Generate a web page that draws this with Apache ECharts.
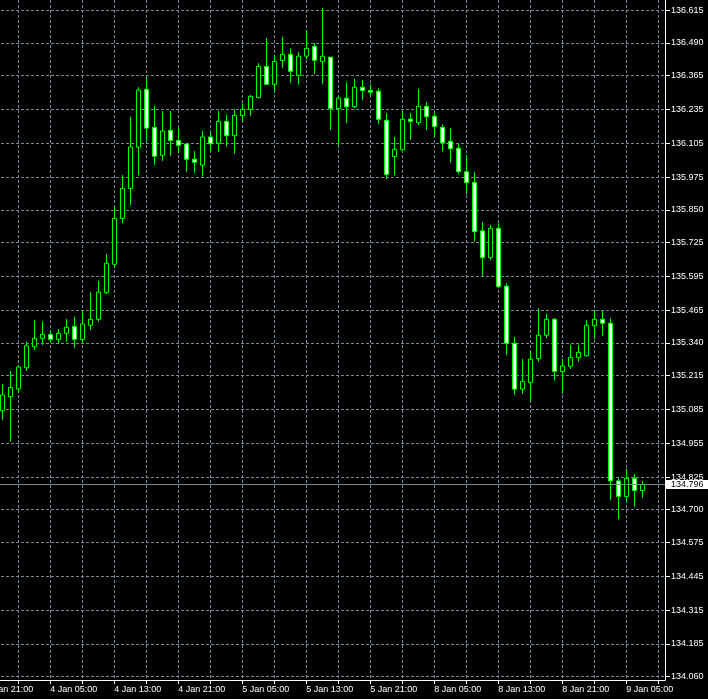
<!DOCTYPE html>
<html><head><meta charset="utf-8">
<style>html,body{margin:0;padding:0;background:#000;}#c{width:708px;height:699px;}</style>
<script src="https://cdn.jsdelivr.net/npm/echarts@6/dist/echarts.min.js"></script>
</head><body><div id="c"></div>
<script>
// hourly time slots (weekend removed)
const dayRanges = [['3 Jan',21,23],['4 Jan',0,23],['5 Jan',0,23],['8 Jan',0,23],['9 Jan',0,9]];
const timeSlots = [];
dayRanges.forEach(([d,a,b])=>{for(let h=a;h<=b;h++) timeSlots.push(d+' '+String(h).padStart(2,'0')+':00');});
const firstCandle = '3 Jan 23:00';

const opens = [135.079,135.133,135.163,135.244,135.325,135.357,135.372,135.353,135.376,135.403,
135.353,135.407,135.430,135.532,135.641,135.817,135.932,136.090,136.312,136.166,
136.059,136.155,136.116,136.102,136.044,136.021,136.129,136.105,136.189,136.134,
136.211,136.235,136.280,136.400,136.331,136.423,136.446,136.366,136.439,136.477,
136.419,136.435,136.238,136.278,136.245,136.320,136.308,136.305,136.193,136.054,
136.080,136.198,136.184,136.247,136.209,136.166,136.113,136.086,135.996,135.955,
135.769,135.666,135.779,135.557,135.338,135.162,135.188,135.279,135.369,135.430,
135.230,135.250,135.284,135.290,135.405,135.430,135.415,134.810,134.750,134.820,134.773];
const closes = [135.140,135.168,135.247,135.328,135.357,135.372,135.353,135.376,135.399,135.353,
135.412,135.430,135.534,135.645,135.817,135.932,136.091,136.309,136.163,136.055,
136.152,136.116,136.097,136.044,136.032,136.129,136.103,136.189,136.134,136.212,
136.235,136.285,136.400,136.331,136.419,136.446,136.381,136.439,136.469,136.423,
136.439,136.238,136.278,136.245,136.320,136.307,136.301,136.197,135.985,136.082,
136.197,136.189,136.247,136.207,136.169,136.107,136.084,135.996,135.954,135.766,
135.666,135.779,135.555,135.338,135.162,135.192,135.277,135.369,135.430,135.230,
135.251,135.284,135.303,135.407,135.430,135.415,134.810,134.750,134.820,134.773,134.796];
const highs = [135.182,135.232,135.255,135.344,135.427,135.421,135.385,135.393,135.431,135.440,
135.462,135.534,135.577,135.680,135.862,135.983,136.207,136.320,136.357,136.248,
136.229,136.229,136.163,136.105,136.075,136.152,136.148,136.229,136.214,136.235,
136.258,136.290,136.412,136.509,136.444,136.513,136.469,136.455,136.540,136.489,
136.624,136.437,136.285,136.339,136.352,136.348,136.331,136.316,136.220,136.129,
136.229,136.220,136.313,136.263,136.220,136.178,136.163,136.105,136.060,135.995,
135.803,135.791,135.798,135.568,135.362,135.278,135.308,135.472,135.450,135.434,
135.278,135.331,135.331,135.427,135.466,135.462,135.434,134.822,134.856,134.837,134.810];
const lows = [135.044,134.961,135.147,135.232,135.312,135.331,135.344,135.338,135.344,135.321,
135.344,135.389,135.421,135.527,135.628,135.798,135.868,135.983,136.115,136.022,
136.037,136.057,136.067,135.996,135.992,135.977,136.073,136.073,136.092,136.065,
136.186,136.211,136.278,136.330,136.301,136.395,136.337,136.330,136.427,136.371,
136.332,136.156,136.095,136.182,136.239,136.271,136.288,136.179,135.968,135.983,
136.078,136.118,136.175,136.156,136.130,136.075,136.031,135.987,135.910,135.728,
135.596,135.657,135.549,135.293,135.140,135.144,135.114,135.267,135.357,135.195,
135.144,135.239,135.267,135.288,135.354,135.367,134.737,134.664,134.730,134.711,134.746];

const yTickLabels = ['134.060','134.185','134.315','134.445','134.575','134.700','134.825','134.955','135.085','135.215',
'135.340','135.465','135.595','135.725','135.850','135.975','136.105','136.235','136.365','136.490','136.615'];
const xLabelHours = ['05:00','13:00','21:00'];
const xGridHours = ['01:00','05:00','09:00','13:00','17:00','21:00'];

const start = timeSlots.indexOf(firstCandle);
const candleData = opens.map((o,i)=>[start+i, o, closes[i], lows[i], highs[i]]);
const labelSlots = [], gridSlots = [];
timeSlots.forEach((t,i)=>{
  const hh = t.slice(-5);
  if (xLabelHours.includes(hh)) labelSlots.push(i);
  if (xGridHours.includes(hh)) gridSlots.push(i);
});
const yTicks = yTickLabels.map(Number);

const FONT = 'Liberation Sans';
const gridLine = {show:true, lineStyle:{color:'#778899', width:1, type:[3,2]}};

const chart = echarts.init(document.getElementById('c'));
chart.setOption({
  animation:false,
  backgroundColor:'#000000',
  grid:{left:-24, right:43, top:0, bottom:19, containLabel:false, outerBoundsMode:'none'},
  xAxis:{
    type:'value', min:-1.2875, max:84.8375,
    axisLine:{show:true, onZero:false, lineStyle:{color:'#ffffff', width:1}},
    axisTick:{show:true, customValues:gridSlots, length:4, lineStyle:{color:'#ffffff'}},
    axisLabel:{customValues:labelSlots, formatter:v=>timeSlots[v], color:'#ffffff', fontFamily:FONT, fontSize:9, align:'left', margin:5, hideOverlap:false},
    splitLine:gridLine
  },
  yAxis:{
    type:'value', position:'right', min:134.0466, max:136.6545,
    axisLine:{show:true, onZero:false, lineStyle:{color:'#ffffff', width:1}},
    axisTick:{show:true, customValues:yTicks, length:5, lineStyle:{color:'#ffffff'}},
    axisLabel:{customValues:yTicks, formatter:v=>v.toFixed(3), color:'#ffffff', fontFamily:FONT, fontSize:9, margin:6},
    splitLine:gridLine
  },
  series:[{
    type:'candlestick',
    data:candleData,
    encode:{x:0, y:[1,2,3,4]},
    barWidth:4,
    itemStyle:{color:'#000000', color0:'#ffffff', borderColor:'#00ff00', borderColor0:'#00ff00', borderWidth:1},
    markLine:{
      symbol:'none', silent:true, animation:false, precision:3,
      data:[{yAxis:closes[closes.length-1]}],
      lineStyle:{color:'#778899', type:'solid', width:1},
      label:{position:'end', distance:1, formatter:p=>Number(p.value).toFixed(3), backgroundColor:'#ffffff', color:'#000000',
        fontFamily:FONT, fontSize:9, lineHeight:9, padding:[0,8,0,5]}
    }
  }]
});
</script></body></html>
